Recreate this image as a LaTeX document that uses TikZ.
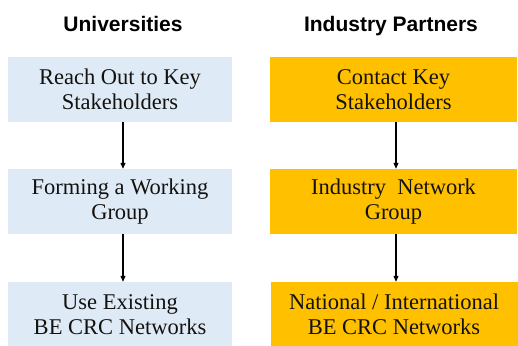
\documentclass[tikz,border=0pt]{standalone}
\usepackage{fontspec}
\setmainfont{Liberation Serif}
\newfontfamily\headfont{Liberation Sans}
\usepackage{xcolor}
\usetikzlibrary{arrows.meta,positioning}
\definecolor{uniBlue}{RGB}{222,235,247}
\definecolor{indGold}{RGB}{255,192,0}
\definecolor{stepInk}{RGB}{20,18,15}

\begin{document}
\begin{tikzpicture}[x=1pt,y=-1pt,
  head/.style={anchor=base,font=\headfont\bfseries\fontsize{21}{25}\selectfont},
  stepbox/.style={inner sep=0pt,minimum height=65pt,align=center,text=stepInk,
    font=\fontsize{22.5}{25}\selectfont},
  unibox/.style={stepbox,fill=uniBlue,minimum width=224pt},
  indbox/.style={stepbox,fill=indGold,minimum width=247pt},
  flow/.style={line width=1.1pt,-{Triangle[length=6pt,width=5pt]}}]
  \useasboundingbox (0,0) rectangle (518,345);

  % column titles
  \node[head] (uniHead) at (123,31) {Universities};
  \node[head] (indHead) at (391,31) {Industry Partners};

  % left column
  \node[unibox] (u1) at (120,89.5) {Reach Out to Key\\Stakeholders};
  \node[unibox] (u2) at (120,201.5) {Forming a Working\\Group};
  \node[unibox] (u3) at (120,314.5) {Use Existing\\BE CRC Networks};

  % right column
  \node[indbox] (p1) at (393.5,89.5) {Contact Key\\Stakeholders};
  \node[indbox] (p2) at (393.5,201.5) {Industry\ \ Network\\Group};
  \node[indbox] (p3) at (394,314.5) {National / International\\BE CRC Networks};

  \draw[flow] ([xshift=3pt]u1.south) -- ([xshift=3pt]u2.north);
  \draw[flow] ([xshift=3pt]u2.south) -- ([xshift=3pt]u3.north);
  \draw[flow] ([xshift=2.5pt]p1.south) -- ([xshift=2.5pt]p2.north);
  \draw[flow] ([xshift=2.5pt]p2.south) -- ([xshift=2pt]p3.north);
\end{tikzpicture}
\end{document}
